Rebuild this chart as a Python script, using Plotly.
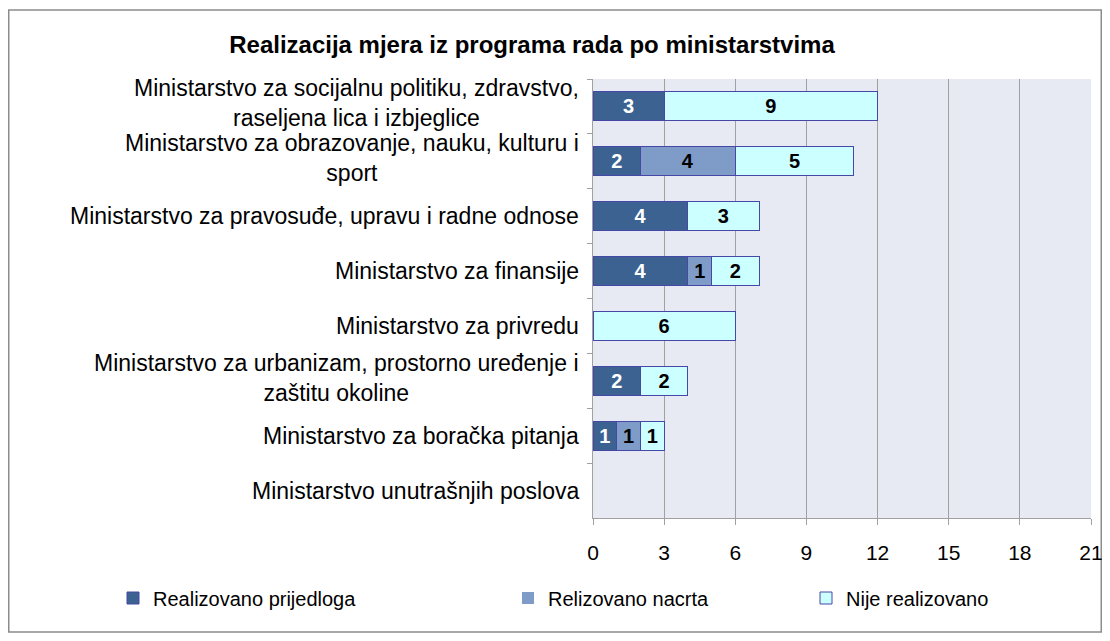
import plotly.graph_objects as go

ministarstva = [
    'Ministarstvo za socijalnu politiku, zdravstvo,<br>raseljena lica i izbjeglice',
    'Ministarstvo za obrazovanje, nauku, kulturu i<br>sport',
    'Ministarstvo za pravosuđe, upravu i radne odnose',
    'Ministarstvo za finansije',
    'Ministarstvo za privredu',
    'Ministarstvo za urbanizam, prostorno uređenje i<br>zaštitu okoline',
    'Ministarstvo za boračka pitanja',
    'Ministarstvo unutrašnjih poslova',
]
realizovano_prijedloga = [3, 2, 4, 4, 0, 2, 1, 0]
relizovano_nacrta = [0, 4, 0, 1, 0, 0, 1, 0]
nije_realizovano = [9, 5, 3, 2, 6, 2, 1, 0]
x_ticks = [0, 3, 6, 9, 12, 15, 18, 21]

# the page body has an 8px margin, so the figure itself is 1094x625
W, H = 1094, 625
L, R, T, B = 585, 11, 71, 115
FONT = 'Liberation Sans'

series = [
    ('Realizovano prijedloga', realizovano_prijedloga, '#3B6291', 'white', 'legend', 105),
    ('Relizovano nacrta', relizovano_nacrta, '#7F9BC7', 'black', 'legend2', 500),
    ('Nije realizovano', nije_realizovano, '#CCFFFF', 'black', 'legend3', 798),
]

fig = go.Figure()
for name, vals, color, tcolor, leg, _ in series:
    fig.add_trace(go.Bar(
        y=ministarstva, x=vals, name=name, orientation='h',
        marker=dict(color=color, line=dict(color='#4747A8', width=[1 if v else 0 for v in vals])),
        width=0.53,
        text=[str(v) if v else '' for v in vals],
        textposition='inside', insidetextanchor='middle', textangle=0,
        constraintext='none',
        textfont=dict(family=FONT, size=20, color=tcolor, weight='bold'),
        legend=leg,
    ))

# category labels as annotations so that wrapped lines are centred
for m in ministarstva:
    fig.add_annotation(x=0, xref='paper', y=m, yref='y', text=m, showarrow=False,
                       xanchor='right', yanchor='middle', align='center', xshift=-12,
                       yshift=3 if '<br>' in m else 0,
                       font=dict(family=FONT, size=23, color='black'))

# outer chart border
pw, ph = W - L - R, H - T - B
fig.add_shape(type='rect', xref='paper', yref='paper',
              x0=(0.75 - L) / pw, x1=(W - 0.75 - L) / pw,
              y0=(-B + 1) / ph, y1=(H - B - 2) / ph,
              line=dict(color='#8C8C8C', width=1.5), fillcolor='rgba(0,0,0,0)', layer='below')

legend_common = dict(orientation='h', xanchor='left', yanchor='middle',
                     xref='container', yref='container',
                     font=dict(family=FONT, size=20, color='black'), bgcolor='rgba(0,0,0,0)')
legends = {}
for i, s in enumerate(series):
    legends['legend' if i == 0 else 'legend%d' % (i + 1)] = dict(x=s[5] / W, y=1 - 590 / H, **legend_common)

fig.update_layout(
    width=W, height=H,
    margin=dict(l=L, r=R, t=T, b=B, autoexpand=False),
    paper_bgcolor='white', plot_bgcolor='#E7EAF2',
    barmode='stack',
    font=dict(family=FONT, size=20, color='black'),
    title=dict(text='<b>Realizacija mjera iz programa rada po ministarstvima</b>',
               x=524 / W, xanchor='center', y=1 - 37 / H, yanchor='middle',
               font=dict(family=FONT, size=24, color='black')),
    xaxis=dict(range=[0, 21], tickvals=x_ticks, showgrid=True, gridcolor='#A0A0A0', gridwidth=1,
               showline=True, linecolor='#A0A0A0', ticks='outside', ticklen=6, tickcolor='#A0A0A0',
               ticklabelstandoff=10, ticklabeloverflow='allow',
               tickfont=dict(family=FONT, size=21), zeroline=False,
               automargin=False, fixedrange=True),
    yaxis=dict(autorange='reversed', showticklabels=False, showline=True, linecolor='#A0A0A0',
               ticks='outside', ticklen=5, tickcolor='#A0A0A0', tickson='boundaries',
               showgrid=False, automargin=False),
    showlegend=True,
    **legends,
)

fig.write_html('out.html')
